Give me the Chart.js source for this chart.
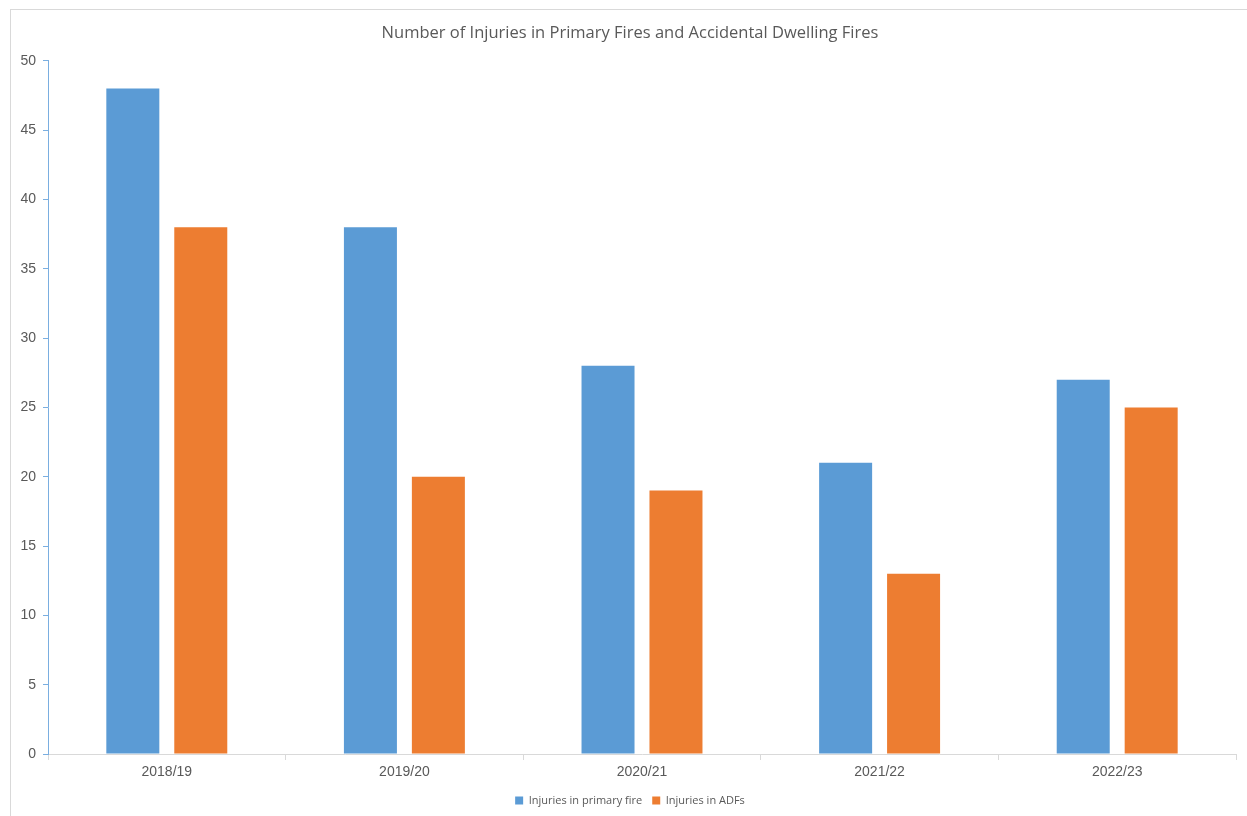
<!DOCTYPE html>
<html>
<head>
<meta charset="utf-8">
<script src="https://cdn.jsdelivr.net/npm/chart.js@4.4.0/dist/chart.umd.min.js"></script>
<style>
  body { margin: 0; background: #fff; overflow: hidden; }
  #wrap { width: 1247px; height: 816px; overflow: hidden; }
</style>
</head>
<body>
<div id="wrap"><canvas id="injuries-chart" width="1260" height="816"></canvas></div>
<script>
// Chart data
const years = ["2018/19", "2019/20", "2020/21", "2021/22", "2022/23"];
const primaryFireInjuries = [48, 38, 28, 21, 27];
const adfInjuries = [38, 20, 19, 13, 25];
const yTicks = [0, 5, 10, 15, 20, 25, 30, 35, 40, 45, 50];

// Light gray frame around the whole chart, like the Excel chart border
const framePlugin = {
    id: 'frame',
    beforeDraw(chart) {
        const ctx = chart.ctx;
        ctx.save();
        ctx.fillStyle = '#ffffff';
        ctx.fillRect(0, 0, chart.width, chart.height);
        ctx.strokeStyle = '#d9d9d9';
        ctx.lineWidth = 1;
        ctx.strokeRect(10.5, 9.5, 1400, 1000);
        ctx.restore();
    }
};

const ctx = document.getElementById('injuries-chart').getContext('2d');
const myChart = new Chart(ctx, {
    type: 'bar',
    data: {
        labels: years,
        datasets: [{
            label: 'Injuries in primary fire',
            data: primaryFireInjuries,
            backgroundColor: '#5b9bd5',
            barPercentage: 0.78,
            categoryPercentage: 0.572,
        }, {
            label: 'Injuries in ADFs',
            data: adfInjuries,
            backgroundColor: '#ed7d31',
            barPercentage: 0.78,
            categoryPercentage: 0.572,
        }],
    },
    plugins: [framePlugin],
    options: {
        responsive: false,
        animation: false,
        layout: { padding: { left: 0, right: 0, top: 0, bottom: 0 } },
        plugins: {
            title: {
                display: true,
                text: 'Number of Injuries in Primary Fires and Accidental Dwelling Fires',
                color: '#595959',
                font: { family: 'Open Sans', size: 16.5, weight: 'normal' },
                padding: { top: 23, bottom: 18 },
            },
            legend: {
                position: 'bottom',
                labels: {
                    color: '#595959',
                    font: { family: 'Open Sans', size: 11 },
                    boxWidth: 8,
                    boxHeight: 8,
                    padding: 10,
                },
            },
            tooltip: { enabled: false },
        },
        scales: {
            x: {
                grid: {
                    offset: true,
                    drawOnChartArea: false,
                    color: '#d9d9d9',
                    tickLength: 6,
                },
                border: { color: '#d9d9d9' },
                ticks: {
                    color: '#595959',
                    font: { family: 'Liberation Sans', size: 14 },
                    padding: 4,
                },
                afterFit(scale) { scale.height = 31; },
            },
            y: {
                min: 0,
                max: 50,
                afterBuildTicks(scale) {
                    scale.ticks = yTicks.map(v => ({ value: v }));
                },
                grid: {
                    drawOnChartArea: false,
                    color: '#7aaee0',
                    tickLength: 5,
                },
                border: { color: '#7aaee0' },
                ticks: {
                    color: '#595959',
                    font: { family: 'Liberation Sans', size: 14 },
                    padding: 7,
                },
                afterFit(scale) { scale.width = 48; },
            },
            // empty right-hand spacer so the title and legend sit centred on the frame
            spacer: {
                position: 'right',
                min: 0,
                max: 50,
                grid: { display: false },
                border: { display: false },
                ticks: { display: false },
                afterFit(scale) { scale.width = 24; },
            },
        },
    },
});
</script>
</body>
</html>
